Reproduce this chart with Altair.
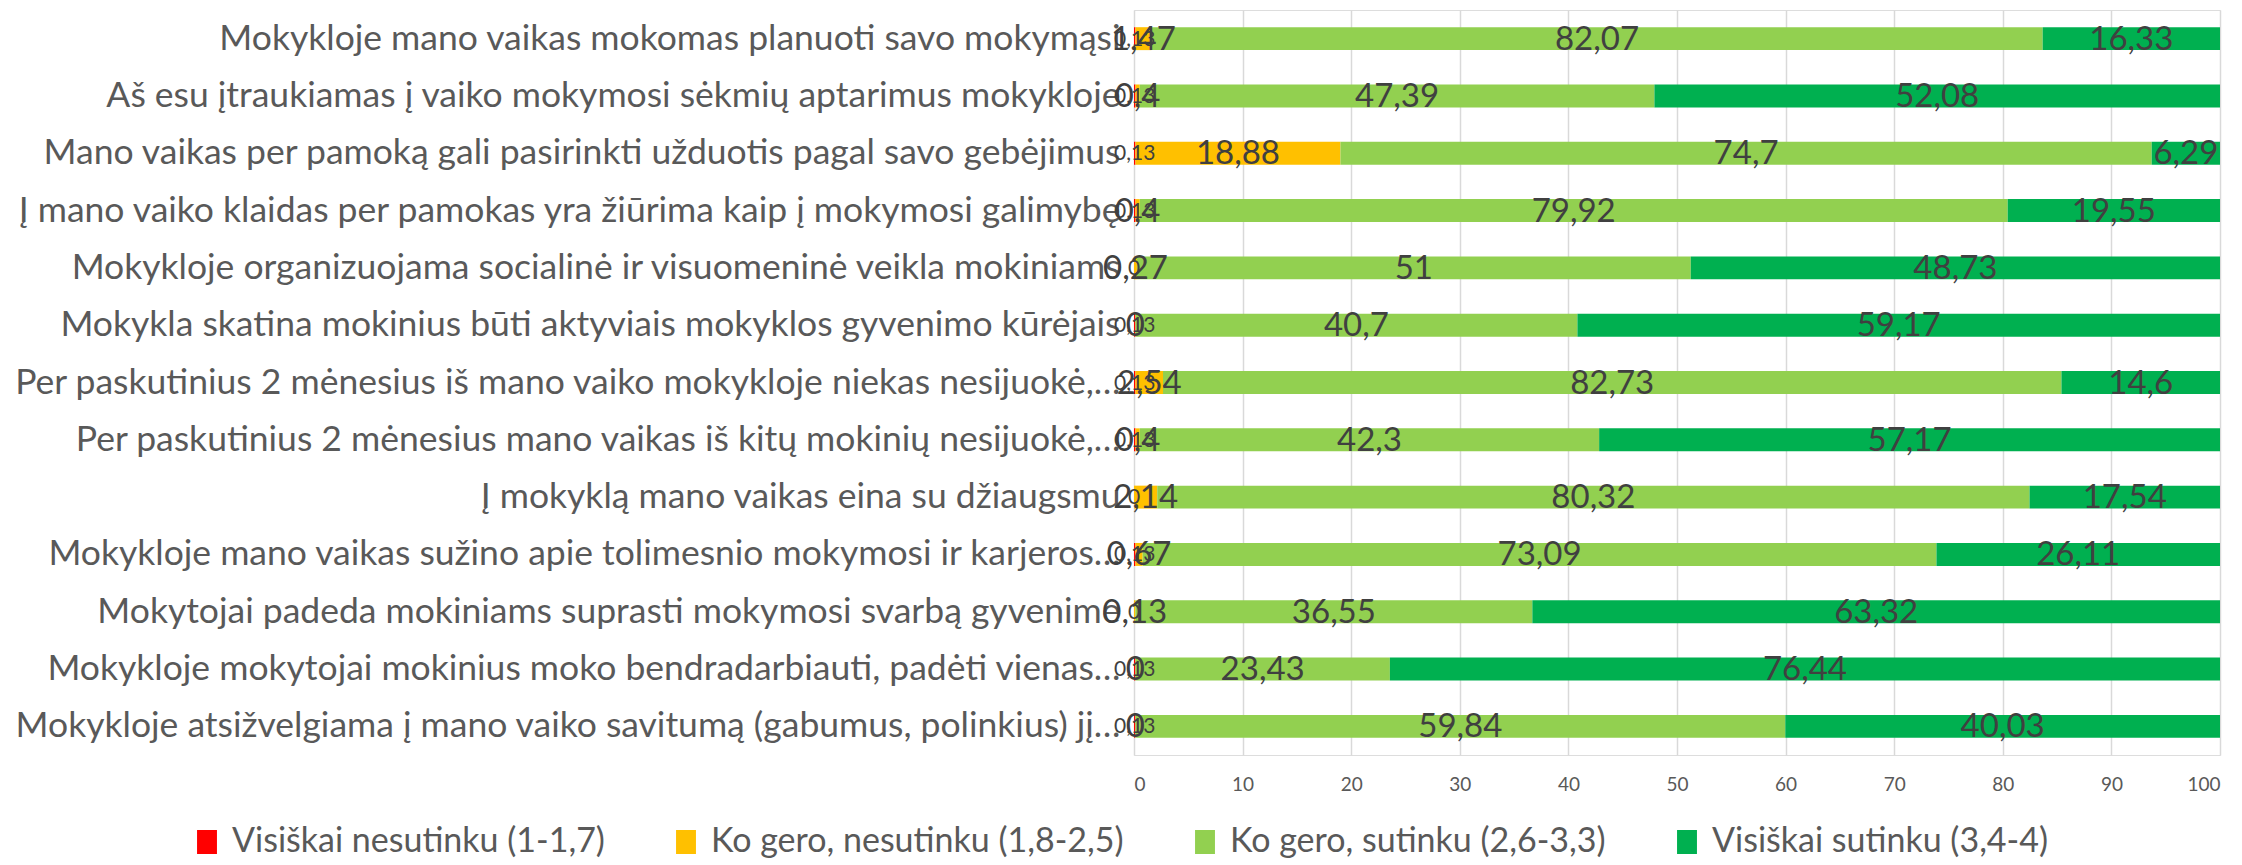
import altair as alt
import pandas as pd

categories = [
    "Mokykloje mano vaikas mokomas planuoti savo mokymąsi",
    "Aš esu įtraukiamas į vaiko mokymosi sėkmių aptarimus mokykloje",
    "Mano vaikas per pamoką gali pasirinkti užduotis pagal savo gebėjimus",
    "Į mano vaiko klaidas per pamokas yra žiūrima kaip į mokymosi galimybę",
    "Mokykloje organizuojama socialinė ir visuomeninė veikla mokiniams",
    "Mokykla skatina mokinius būti aktyviais mokyklos gyvenimo kūrėjais",
    "Per paskutinius 2 mėnesius iš mano vaiko mokykloje niekas nesijuokė,…",
    "Per paskutinius 2 mėnesius mano vaikas iš kitų mokinių nesijuokė,…",
    "Į mokyklą mano vaikas eina su džiaugsmu",
    "Mokykloje mano vaikas sužino apie tolimesnio mokymosi ir karjeros…",
    "Mokytojai padeda mokiniams suprasti mokymosi svarbą gyvenime",
    "Mokykloje mokytojai mokinius moko bendradarbiauti, padėti vienas…",
    "Mokykloje atsižvelgiama į mano vaiko savitumą (gabumus, polinkius) jį…",
]

series_names = [
    "Visiškai nesutinku (1-1,7)",
    "Ko gero, nesutinku (1,8-2,5)",
    "Ko gero, sutinku (2,6-3,3)",
    "Visiškai sutinku (3,4-4)",
]
series_colors = ["#FF0000", "#FFC000", "#92D050", "#00B050"]

red = [0.13, 0.13, 0.13, 0.13, 0, 0.13, 0.13, 0.13, 0, 0.13, 0, 0.13, 0.13]
yellow = [1.47, 0.4, 18.88, 0.4, 0.27, 0, 2.54, 0.4, 2.14, 0.67, 0.13, 0, 0]
green = [82.07, 47.39, 74.7, 79.92, 51, 40.7, 82.73, 42.3, 80.32, 73.09, 36.55, 23.43, 59.84]
dark_green = [16.33, 52.08, 6.29, 19.55, 48.73, 59.17, 14.6, 57.17, 17.54, 26.11, 63.32, 76.44, 40.03]

x_ticks = [0, 10, 20, 30, 40, 50, 60, 70, 80, 90, 100]

rows = []
for i, cat in enumerate(categories):
    for s, vals in enumerate([red, yellow, green, dark_green]):
        v = vals[i]
        rows.append({
            "category": cat,
            "series": series_names[s],
            "order": s,
            "value": v,
            "label": f"{v:g}".replace(".", ","),
        })
df = pd.DataFrame(rows)

FONT = "Lato"
LABEL_COLOR = "#595959"
DATA_COLOR = "#404040"

base = alt.Chart(df).transform_stack(
    stack="value",
    groupby=["category"],
    sort=[alt.SortField("order", order="ascending")],
    as_=["x0", "x1"],
).transform_calculate(mid="(datum.x0 + datum.x1) / 2")

y_enc = alt.Y(
    "category:N",
    sort=categories,
    scale=alt.Scale(paddingInner=0.6, paddingOuter=0.3),
    axis=alt.Axis(
        title=None, domain=False, ticks=False, labelFontSize=35.5, labelFont=FONT,
        labelColor=LABEL_COLOR, labelPadding=14, labelLimit=1200,
    ),
)

bars = base.mark_bar().encode(
    x=alt.X(
        "x0:Q",
        scale=alt.Scale(domain=[0, 100], nice=False),
        axis=alt.Axis(
            values=x_ticks, title=None, domain=False, ticks=False, grid=True,
            gridColor="#D9D9D9", gridWidth=1.5, labelFontSize=19, labelFont=FONT,
            labelColor=LABEL_COLOR, labelPadding=20,
        ),
    ),
    x2="x1:Q",
    y=y_enc,
    color=alt.Color(
        "series:N",
        scale=alt.Scale(domain=series_names, range=series_colors),
        sort=series_names,
        legend=alt.Legend(
            orient="none", legendX=-944, legendY=815, direction="horizontal",
            columns=4, title=None,
            symbolType="M-0.83,-1H0.83V1H-0.83Z", symbolSize=576,
            symbolStrokeWidth=0, symbolOpacity=1,
            labelFontSize=34, labelFont=FONT, labelColor=LABEL_COLOR,
            columnPadding=64, labelOffset=8, padding=0, labelLimit=1000,
        ),
    ),
)

big_text = base.transform_filter("datum.order > 0").mark_text(
    font=FONT, fontSize=33, color=DATA_COLOR, baseline="middle", align="center", dy=1
).encode(x="mid:Q", y=y_enc, text="label:N")

small_text = base.transform_filter("datum.order == 0").mark_text(
    font=FONT, fontSize=21, color=DATA_COLOR, baseline="middle", align="center", dy=1
).encode(x="mid:Q", y=y_enc, text="label:N")

chart = alt.layer(bars, big_text, small_text).properties(
    width=1086,
    height=745,
    autosize=alt.AutoSizeParams(type="none"),
    padding={"left": 1126, "top": 2, "right": 12, "bottom": 108},
).configure_view(stroke=None).configure(font=FONT)

chart.save("out.html", embed_options={"renderer": "svg", "actions": False})
